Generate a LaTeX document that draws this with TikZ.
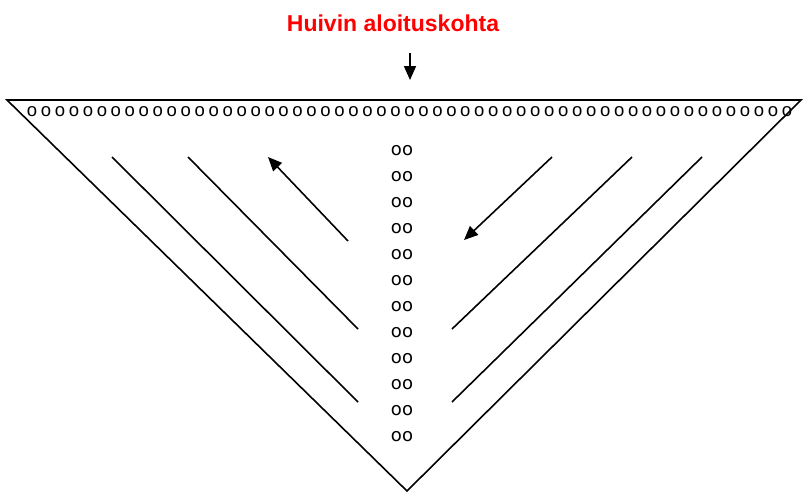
\documentclass[tikz,border=0pt]{standalone}
\usepackage{fontspec}
\setmainfont{Liberation Sans}
\newfontfamily\pairfont{DejaVu Sans}
\usetikzlibrary{arrows.meta}

\begin{document}
\begin{tikzpicture}[x=1pt,y=-1pt]
    % Define styles
    \tikzstyle{title} = [text=red, font=\fontsize{23}{27}\selectfont\bfseries, anchor=base, inner sep=0pt]
    \tikzstyle{stitch} = [font=\fontsize{18.5}{21}\selectfont, inner sep=0pt]
    \tikzstyle{pair} = [font=\pairfont\fontsize{18}{21}\selectfont, inner sep=0pt]
    \tikzstyle{edge} = [line width=1.6pt]
    \tikzstyle{arrow} = [line width=1.6pt, -{Triangle[length=14pt,width=12pt]}]

    \useasboundingbox (0,0) rectangle (803,493);

    % Title and start mark
    \node (title) [title] at (393,31.7) {Huivin aloituskohta};
    \coordinate (markfrom) at (410,53);
    \coordinate (markto) at (410,80);
    \draw [arrow] (markfrom) -- (markto);

    % Shawl outline
    \coordinate (topleft) at (7,100);
    \coordinate (topright) at (801,100);
    \coordinate (tip) at (407,491);
    \draw [edge] (topleft) -- (topright) -- (tip) -- cycle;

    % Stitches
    \foreach \i in {0,...,54}
        \node (row\i) [stitch] at (32+13.98*\i,112) {o};
    \foreach \i in {0,...,11}
        \node (pair\i) [pair] at (402,150.7+26*\i) {oo};

    % Rows, left side
    \coordinate (la1) at (112,157);
    \coordinate (la2) at (358,402);
    \coordinate (lb1) at (188,157);
    \coordinate (lb2) at (358,329);
    \coordinate (lc1) at (348,241);
    \coordinate (lc2) at (268,157);
    \draw [edge] (la1) -- (la2);
    \draw [edge] (lb1) -- (lb2);
    \draw [arrow] (lc1) -- (lc2);

    % Rows, right side
    \coordinate (ra1) at (552,157);
    \coordinate (ra2) at (464,240);
    \coordinate (rb1) at (632,157);
    \coordinate (rb2) at (452,329);
    \coordinate (rc1) at (702,157);
    \coordinate (rc2) at (452,402);
    \draw [arrow] (ra1) -- (ra2);
    \draw [edge] (rb1) -- (rb2);
    \draw [edge] (rc1) -- (rc2);
\end{tikzpicture}
\end{document}
